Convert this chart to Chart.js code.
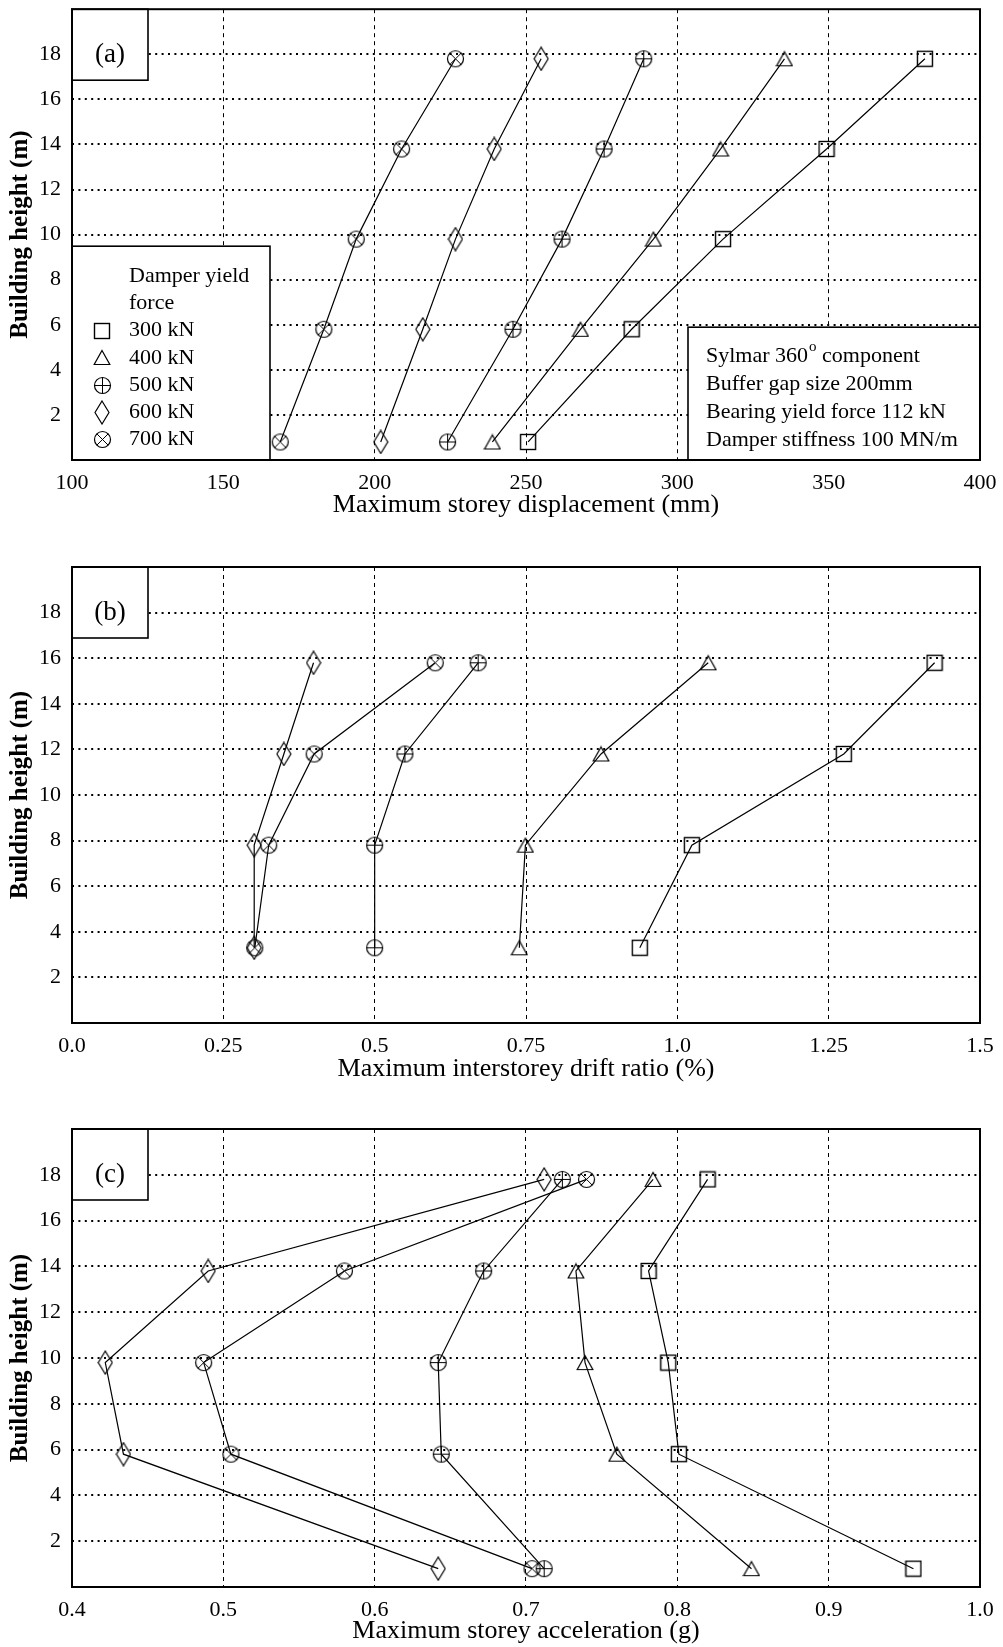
<!DOCTYPE html>
<html>
<head>
<meta charset="utf-8">
<script src="https://cdn.jsdelivr.net/npm/chart.js@4.4.1/dist/chart.umd.min.js"></script>
<style>
  html, body { margin: 0; padding: 0; background: #fff; }
  body { width: 1003px; height: 1647px; position: relative; overflow: hidden; }
  canvas { position: absolute; left: 0; }
</style>
</head>
<body>
<canvas id="panelA" width="1003" height="535" style="top:0px"></canvas>
<canvas id="panelB" width="1003" height="545" style="top:550px"></canvas>
<canvas id="panelC" width="1003" height="537" style="top:1110px"></canvas>
<script>
// ---- series names and annotation text ----
const forceLabels = ['300 kN', '400 kN', '500 kN', '600 kN', '700 kN'];
const legendHeading = ['Damper yield', 'force'];
const noteLines = ['Sylmar 360|o| component', 'Buffer gap size 200mm', 'Bearing yield force 112 kN', 'Damper stiffness 100 MN/m'];

// ---- (a) maximum storey displacement (mm) ----
const heightsA = [0.8, 5.8, 9.8, 13.8, 17.8];
const dispA300 = [250.7, 284.9, 315.1, 349.3, 381.8];
const dispA400 = [238.9, 268.0, 292.1, 314.3, 335.4];
const dispA500 = [224.1, 245.7, 261.9, 275.8, 288.9];
const dispA600 = [202.0, 215.9, 226.7, 239.5, 255.0];
const dispA700 = [168.8, 183.2, 193.9, 208.9, 226.7];
const ticksA = [100, 150, 200, 250, 300, 350, 400];
const tickLabelsA = ['100', '150', '200', '250', '300', '350', '400'];

// ---- (b) maximum interstorey drift ratio (%) ----
const heightsB = [3.3, 7.8, 11.8, 15.8];
const driftB300 = [0.938, 1.024, 1.275, 1.425];
const driftB400 = [0.739, 0.749, 0.874, 1.051];
const driftB500 = [0.500, 0.500, 0.550, 0.671];
const driftB600 = [0.301, 0.301, 0.350, 0.399];
const driftB700 = [0.302, 0.325, 0.400, 0.600];
const ticksB = [0, 0.25, 0.5, 0.75, 1.0, 1.25, 1.5];
const tickLabelsB = ['0.0', '0.25', '0.5', '0.75', '1.0', '1.25', '1.5'];

// ---- (c) maximum storey acceleration (g) ----
const heightsC = [0.8, 5.8, 9.8, 13.8, 17.8];
const accC300 = [0.956, 0.801, 0.794, 0.781, 0.820];
const accC400 = [0.849, 0.760, 0.739, 0.733, 0.784];
const accC500 = [0.712, 0.644, 0.642, 0.672, 0.724];
const accC600 = [0.642, 0.434, 0.422, 0.490, 0.712];
const accC700 = [0.704, 0.505, 0.487, 0.580, 0.740];
const ticksC = [0.4, 0.5, 0.6, 0.7, 0.8, 0.9, 1.0];
const tickLabelsC = ['0.4', '0.5', '0.6', '0.7', '0.8', '0.9', '1.0'];

// ---- height axis ----
const heightTicks = [0, 2, 4, 6, 8, 10, 12, 14, 16, 18, 20];

const SERIF = "'Liberation Serif', 'Times New Roman', serif";

// ---- open marker glyphs ----
function markerCanvas(w, h, draw) {
  const c = document.createElement('canvas');
  c.width = w; c.height = h;
  const g = c.getContext('2d');
  g.strokeStyle = '#000';
  g.lineWidth = 1.2;
  draw(g, w, h);
  return c;
}
const mkSquare = markerCanvas(18, 18, g => { g.lineWidth = 1.4; g.strokeRect(1.5, 1.5, 15, 15); });
const mkTriangle = markerCanvas(18, 17, g => {
  g.beginPath(); g.moveTo(9, 1.5); g.lineTo(16.8, 15.5); g.lineTo(1.2, 15.5); g.closePath(); g.stroke();
});
const mkCirclePlus = markerCanvas(19, 19, g => {
  g.beginPath(); g.arc(9.5, 9.5, 8, 0, Math.PI * 2); g.stroke();
  g.lineWidth = 1;
  g.beginPath(); g.moveTo(1.5, 9.5); g.lineTo(17.5, 9.5); g.moveTo(9.5, 1.5); g.lineTo(9.5, 17.5); g.stroke();
});
const mkDiamond = markerCanvas(16, 25, g => {
  g.beginPath(); g.moveTo(8, 1); g.lineTo(15, 12.5); g.lineTo(8, 24); g.lineTo(1, 12.5); g.closePath(); g.stroke();
});
const mkCircleCross = markerCanvas(19, 19, g => {
  g.beginPath(); g.arc(9.5, 9.5, 8, 0, Math.PI * 2); g.stroke();
  const d = 8 * Math.SQRT1_2;
  g.lineWidth = 1;
  g.beginPath();
  g.moveTo(9.5 - d, 9.5 - d); g.lineTo(9.5 + d, 9.5 + d);
  g.moveTo(9.5 + d, 9.5 - d); g.lineTo(9.5 - d, 9.5 + d);
  g.stroke();
});
const markers = [mkSquare, mkTriangle, mkCirclePlus, mkDiamond, mkCircleCross];

// ---- drawing helpers for the boxes inside the plot ----
function whiteBox(ctx, x, y, w, h) {
  ctx.save();
  ctx.fillStyle = '#fff';
  ctx.fillRect(x, y, w, h);
  ctx.strokeStyle = '#000';
  ctx.lineWidth = 1.6;
  ctx.strokeRect(x, y, w, h);
  ctx.restore();
}

function drawNoteLine(ctx, text, x, y) {
  // segments between | | are drawn as a raised superscript
  const parts = text.split('|');
  let cx = x;
  parts.forEach((p, i) => {
    if (i % 2 === 1) {
      ctx.font = '15px ' + SERIF;
      ctx.fillText(p, cx + 1, y - 9);
      cx += ctx.measureText(p).width + 1;
    } else {
      ctx.font = '22px ' + SERIF;
      ctx.fillText(p, cx, y);
      cx += ctx.measureText(p).width;
    }
  });
}

function decorPlugin(tag, withLegend) {
  return {
    id: 'panelDecor',
    beforeDatasetsDraw(chart) {
      const { ctx, chartArea: a } = chart;
      // panel tag box
      whiteBox(ctx, a.left, a.top, 76, 71);
      ctx.save();
      ctx.fillStyle = '#000';
      ctx.font = '27px ' + SERIF;
      ctx.textAlign = 'center';
      ctx.textBaseline = 'alphabetic';
      ctx.fillText(tag, a.left + 38, a.top + 53);
      ctx.restore();

      if (!withLegend) return;

      // legend box
      const lx = a.left, ly = a.top + 237;
      whiteBox(ctx, lx, ly, 198, a.bottom - ly);
      ctx.save();
      ctx.fillStyle = '#000';
      ctx.font = '22px ' + SERIF;
      ctx.textAlign = 'left';
      ctx.textBaseline = 'middle';
      const rows = legendHeading.concat(forceLabels);
      rows.forEach((t, k) => {
        const ry = ly + 30 + k * 27.2;
        ctx.fillText(t, lx + 57, ry);
        const mi = k - legendHeading.length;
        if (mi >= 0) {
          const m = markers[mi];
          ctx.drawImage(m, Math.round(lx + 30 - m.width / 2), Math.round(ry - m.height / 2));
        }
      });
      ctx.restore();

      // run description box
      const nx = a.right - 292, ny = a.top + 318;
      whiteBox(ctx, nx, ny, a.right - nx, a.bottom - ny);
      ctx.save();
      ctx.fillStyle = '#000';
      ctx.textAlign = 'left';
      ctx.textBaseline = 'middle';
      noteLines.forEach((t, k) => drawNoteLine(ctx, t, nx + 18, ny + 29 + k * 28));
      ctx.restore();
    },
    afterDraw(chart) {
      const { ctx, chartArea: a } = chart;
      ctx.save();
      ctx.strokeStyle = '#000';
      ctx.lineWidth = 2;
      ctx.strokeRect(a.left, a.top, a.right - a.left, a.bottom - a.top);
      ctx.restore();
    }
  };
}

function buildPanel(id, spec) {
  const xMin = spec.xTicks[0], xMax = spec.xTicks[spec.xTicks.length - 1];
  const datasets = spec.series.map((vals, i) => ({
    label: forceLabels[i],
    data: vals.map((v, j) => ({ x: v, y: spec.heights[j] })),
    showLine: true,
    borderColor: '#000',
    borderWidth: 1.2,
    pointStyle: markers[i],
    pointRadius: 8,
    pointHoverRadius: 8,
    pointBackgroundColor: 'rgba(0,0,0,0)',
    pointBorderColor: '#000',
    fill: false,
    tension: 0
  }));
  return new Chart(document.getElementById(id), {
    type: 'scatter',
    data: { datasets },
    options: {
      responsive: false,
      animation: false,
      devicePixelRatio: 1,
      events: [],
      layout: { padding: { left: 0, right: 23, top: spec.padTop, bottom: 0 } },
      plugins: { legend: { display: false }, tooltip: { enabled: false } },
      scales: {
        x: {
          type: 'linear',
          min: xMin, max: xMax,
          afterBuildTicks: s => { s.ticks = spec.xTicks.map(v => ({ value: v })); },
          afterFit: s => {
            s.height = spec.xAxisHeight;
            s.paddingLeft = 0; s.paddingRight = 0;
          },
          ticks: {
            autoSkip: false, maxRotation: 0, minRotation: 0,
            padding: 10,
            color: '#000',
            font: { family: SERIF, size: 22 },
            callback: (v, i) => spec.xTickLabels[i]
          },
          grid: {
            drawTicks: false,
            lineWidth: 1,
            color: c => (c.tick && c.tick.value > xMin + 1e-9 && c.tick.value < xMax - 1e-9) ? '#000' : 'rgba(0,0,0,0)'
          },
          border: { display: false, dash: [4, 4] },
          title: {
            display: true,
            text: spec.xTitle,
            color: '#000',
            font: { family: SERIF, size: 26 },
            padding: { top: 0, bottom: spec.xTitlePad }
          }
        },
        y: {
          type: 'linear',
          min: 0, max: 20,
          afterBuildTicks: s => { s.ticks = heightTicks.map(v => ({ value: v })); },
          afterFit: s => {
            s.width = 72;
            s.paddingTop = 0; s.paddingBottom = 0;
          },
          ticks: {
            autoSkip: false,
            padding: 11,
            color: '#000',
            font: { family: SERIF, size: 22 },
            callback: v => (v > 0 && v < 20) ? String(v) : ''
          },
          grid: {
            drawTicks: false,
            lineWidth: 2,
            color: c => (c.tick && c.tick.value > 0 && c.tick.value < 20) ? '#000' : 'rgba(0,0,0,0)'
          },
          border: { display: false, dash: [2, 4.4] },
          title: {
            display: true,
            text: 'Building height (m)',
            color: '#000',
            font: { family: SERIF, size: 25, weight: 'bold' },
            padding: { top: 6, bottom: 0 }
          }
        }
      }
    },
    plugins: [decorPlugin(spec.tag, spec.legend)]
  });
}

buildPanel('panelA', {
  tag: '(a)', legend: true,
  heights: heightsA,
  series: [dispA300, dispA400, dispA500, dispA600, dispA700],
  xTicks: ticksA, xTickLabels: tickLabelsA,
  xTitle: 'Maximum storey displacement (mm)',
  padTop: 6, xAxisHeight: 75, xTitlePad: 14.4
});

buildPanel('panelB', {
  tag: '(b)', legend: false,
  heights: heightsB,
  series: [driftB300, driftB400, driftB500, driftB600, driftB700],
  xTicks: ticksB, xTickLabels: tickLabelsB,
  xTitle: 'Maximum interstorey drift ratio (%)',
  padTop: 17, xAxisHeight: 72, xTitlePad: 10.4
});

buildPanel('panelC', {
  tag: '(c)', legend: false,
  heights: heightsC,
  series: [accC300, accC400, accC500, accC600, accC700],
  xTicks: ticksC, xTickLabels: tickLabelsC,
  xTitle: 'Maximum storey acceleration (g)',
  padTop: 19, xAxisHeight: 60, xTitlePad: 0
});
</script>
</body>
</html>
